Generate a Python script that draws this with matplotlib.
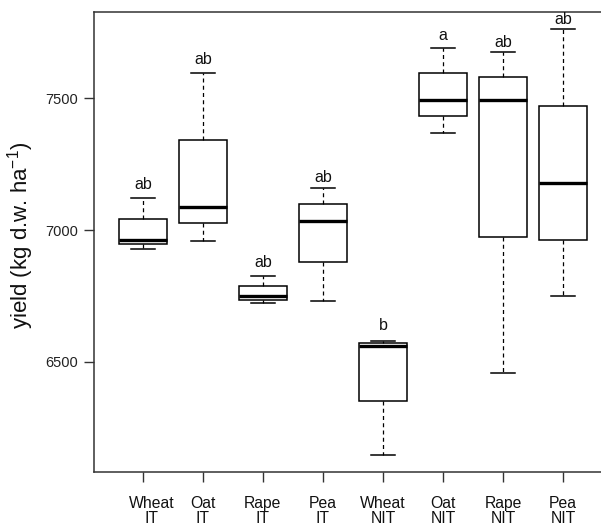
import matplotlib
matplotlib.use('Agg')
import matplotlib.pyplot as plt

plt.rcParams['font.family'] = ['Liberation Sans', 'DejaVu Sans']
plt.rcParams['mathtext.fontset'] = 'custom'
plt.rcParams['mathtext.rm'] = 'Liberation Sans'
plt.rcParams['mathtext.it'] = 'Liberation Sans:italic'
plt.rcParams['mathtext.bf'] = 'Liberation Sans:bold'

# ---- data ----
crops = ['Wheat', 'Oat', 'Rape', 'Pea', 'Wheat', 'Oat', 'Rape', 'Pea']
systems = ['IT', 'IT', 'IT', 'IT', 'NIT', 'NIT', 'NIT', 'NIT']
whisker_low = [6927, 6959, 6722, 6729, 6147, 7369, 6456, 6749]
q1 = [6947, 7027, 6734, 6880, 6350, 7433, 6973, 6963]
median = [6962, 7088, 6749, 7033, 6560, 7494, 7494, 7180]
q3 = [7042, 7342, 6789, 7098, 6570, 7595, 7582, 7472]
whisker_high = [7120, 7597, 6827, 7161, 6579, 7690, 7675, 7762]
letters = ['ab', 'ab', 'ab', 'ab', 'b', 'a', 'ab', 'ab']
letter_y = [7171, 7649, 6875, 7201, 6639, 7740, 7711, 7800]
y_ticks = [6500, 7000, 7500]

stats = []
for i in range(len(crops)):
    stats.append(dict(whislo=whisker_low[i], q1=q1[i], med=median[i],
                      q3=q3[i], whishi=whisker_high[i], fliers=[]))

positions = list(range(1, len(crops) + 1))

fig = plt.figure(figsize=(6.01, 5.32), dpi=100)
W, H = 601, 532
ax = fig.add_axes([93.5 / W, (H - 472) / H, 519 / W, 460 / H])

ax.bxp(stats, positions=positions, widths=0.8, capwidths=0.4,
       patch_artist=True, showfliers=False,
       boxprops=dict(facecolor='white', edgecolor='black', linewidth=1.1),
       medianprops=dict(color='black', linewidth=2.4, solid_capstyle='butt'),
       whiskerprops=dict(color='black', linewidth=0.9, linestyle=(0, (3.2, 2.6))),
       capprops=dict(color='black', linewidth=1.1))

ax.set_xlim(0.18, 8.82)
ax.set_ylim(6081, 7828)

ax.set_yticks(y_ticks)
ax.set_yticklabels([str(v) for v in y_ticks], fontsize=10.5, color='#222222')
ax.set_xticks(positions)
ax.set_xticklabels([''] * len(positions))
ax.tick_params(axis='both', length=7, width=1.0, direction='out', color='#333333')
ax.tick_params(axis='y', pad=4)

for side in ['top', 'left', 'bottom']:
    ax.spines[side].set_color('#333333')
    ax.spines[side].set_linewidth(1.1)
ax.spines['right'].set_visible(False)

# significance letters
for p, lab, ly in zip(positions, letters, letter_y):
    ax.text(p, ly, lab, ha='center', va='center', fontsize=11.5, color='#111111')

# two-line category labels
for i, (p, c, s) in enumerate(zip(positions, crops, systems)):
    dx = 9 if i == 0 else 0
    ax.annotate(f"{c}\n{s}", xy=(p, 0), xycoords=('data', 'axes fraction'),
                xytext=(dx, -24), textcoords='offset pixels',
                ha='center', va='top', fontsize=11.3, linespacing=1.02,
                color='#111111', annotation_clip=False)

fig.text(21 / W, 1 - 235 / H, 'yield (kg d.w. ha$^{\\mathregular{-1}}$)',
         rotation=90, ha='center', va='center', fontsize=16, color='#111111')

fig.savefig('out.png', dpi=100)
